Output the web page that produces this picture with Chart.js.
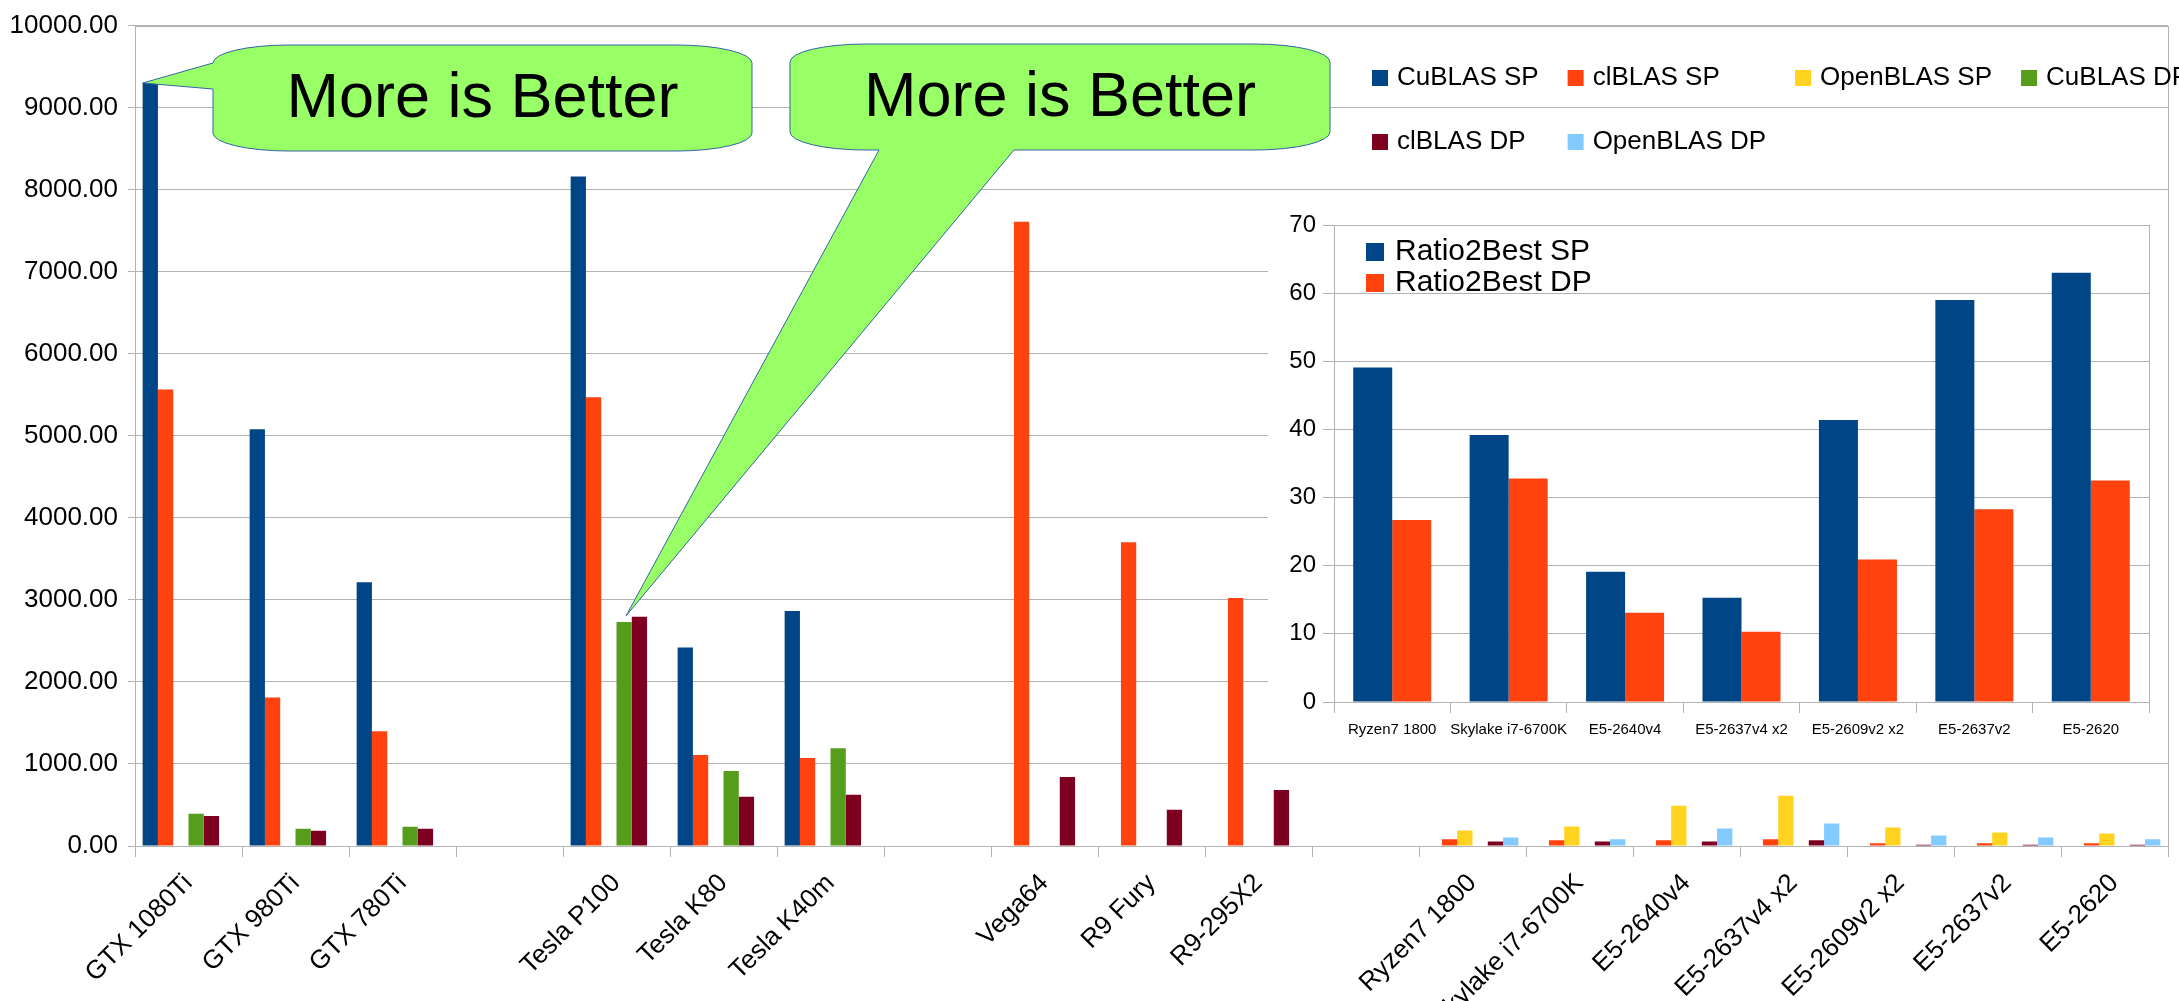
<!DOCTYPE html>
<html>
<head>
<meta charset="utf-8">
<script src="https://cdn.jsdelivr.net/npm/chart.js"></script>
<style>
  body { margin: 0; background: #fff; }
  #wrap { position: relative; width: 2179px; height: 1001px; overflow: hidden; }
  #inset { position: absolute; left: 1268px; top: 195px; }
</style>
</head>
<body>
<div id="wrap">
  <canvas id="main" width="2179" height="1001"></canvas>
  <canvas id="inset" width="900" height="557"></canvas>
</div>
<script>
// Main chart data
const categories = ['GTX 1080Ti', 'GTX 980Ti', 'GTX 780Ti', '', 'Tesla P100', 'Tesla K80', 'Tesla K40m', '',
  'Vega64', 'R9 Fury', 'R9-295X2', '', 'Ryzen7 1800', 'Skylake i7-6700K', 'E5-2640v4', 'E5-2637v4 x2',
  'E5-2609v2 x2', 'E5-2637v2', 'E5-2620'];
const cublasSP   = [9300, 5080, 3215, null, 8160, 2420, 2865, null, null, null, null, null, null, null, null, null, null, null, null];
const clblasSP   = [5565, 1810, 1400, null, 5470, 1108, 1072, null, 7610, 3703, 3022, null, 81, 69, 69, 81, 32, 32, 32];
const openblasSP = [null, null, null, null, null, null, null, null, null, null, null, null, 190, 238, 492, 613, 226, 165, 153];
const cublasDP   = [392, 209, 234, null, 2731, 915, 1192, null, null, null, null, null, null, null, null, null, null, null, null];
const clblasDP   = [366, 187, 209, null, 2794, 600, 625, null, 840, 441, 683, null, 56, 56, 56, 69, 16, 16, 16];
const openblasDP = [null, null, null, null, null, null, null, null, null, null, null, null, 105, 81, 214, 274, 129, 105, 81];
const yTicks = [0, 10000, 1000];

// Inset chart data
const cpuCategories = ['Ryzen7 1800', 'Skylake i7-6700K', 'E5-2640v4', 'E5-2637v4 x2', 'E5-2609v2 x2', 'E5-2637v2', 'E5-2620'];
const ratioSP = [49.1, 39.2, 19.1, 15.3, 41.4, 59.0, 63.0];
const ratioDP = [26.7, 32.8, 13.1, 10.3, 20.9, 28.3, 32.5];
const insetTicks = [0, 70, 10];

const FONT = '"Liberation Sans", Arial, sans-serif';
const GRID = '#b3b3b3';
Chart.defaults.font.family = FONT;
Chart.defaults.color = '#000';

// white canvas
const whiteBg = {
    id: 'whiteBg',
    beforeDraw(chart) {
        const ctx = chart.ctx;
        ctx.save();
        ctx.fillStyle = '#fff';
        ctx.fillRect(0, 0, chart.width, chart.height);
        ctx.restore();
    }
};

// right/top frame of the plot area
const plotFrame = {
    id: 'plotFrame',
    beforeDatasetsDraw(chart) {
        const a = chart.chartArea, ctx = chart.ctx;
        ctx.save();
        ctx.strokeStyle = GRID;
        ctx.lineWidth = 1;
        ctx.strokeRect(Math.round(a.left) + 0.5, Math.round(a.top) + 0.5, Math.round(a.right - a.left), Math.round(a.bottom - a.top));
        ctx.restore();
    }
};

// legend laid out in columns like the office suite does
const boxLegend = {
    id: 'boxLegend',
    afterDraw(chart, args, opts) {
        const ctx = chart.ctx;
        const items = chart.data.datasets;
        ctx.save();
        ctx.font = opts.font;
        ctx.textBaseline = 'middle';
        const widths = [];
        items.forEach((ds, i) => {
            const c = i % opts.cols;
            widths[c] = Math.max(widths[c] || 0, ctx.measureText(ds.label).width);
        });
        let x = opts.x;
        const colX = widths.map(w => {
            const cx = x;
            x += opts.box + opts.gap + w + opts.colGap;
            return cx;
        });
        items.forEach((ds, i) => {
            const cx = colX[i % opts.cols];
            const cy = opts.y + Math.floor(i / opts.cols) * opts.rowH;
            ctx.fillStyle = ds.backgroundColor;
            ctx.fillRect(cx, Math.round(cy - opts.box / 2), opts.box, opts.box);
            ctx.fillStyle = '#000';
            ctx.fillText(ds.label, cx + opts.box + opts.gap, cy);
        });
        ctx.restore();
    }
};

// "More is Better" speech bubbles
function bubblePath(ctx, b, tip) {
    const { left, top, right, bottom, rx, ry } = b;
    ctx.beginPath();
    ctx.moveTo(left + rx, top);
    ctx.lineTo(right - rx, top);
    ctx.ellipse(right - rx, top + ry, rx, ry, 0, -Math.PI / 2, 0);
    ctx.lineTo(right, bottom - ry);
    ctx.ellipse(right - rx, bottom - ry, rx, ry, 0, 0, Math.PI / 2);
    if (b.side === 'bottom') {
        ctx.lineTo(b.p2, bottom);
        ctx.lineTo(tip.x, tip.y);
        ctx.lineTo(b.p1, bottom);
    }
    ctx.lineTo(left + rx, bottom);
    ctx.ellipse(left + rx, bottom - ry, rx, ry, 0, Math.PI / 2, Math.PI);
    if (b.side === 'left') {
        ctx.lineTo(left, b.p2);
        ctx.lineTo(tip.x, tip.y);
        ctx.lineTo(left, b.p1);
    }
    ctx.lineTo(left, top + ry);
    ctx.ellipse(left + rx, top + ry, rx, ry, 0, Math.PI, Math.PI * 1.5);
    ctx.closePath();
}

const callouts = {
    id: 'callouts',
    afterDraw(chart) {
        const ctx = chart.ctx;
        const gtx = chart.getDatasetMeta(0).data[0];
        const p100g = chart.getDatasetMeta(3).data[4];
        const p100r = chart.getDatasetMeta(4).data[4];
        const bubbles = [
            { left: 213, top: 45, right: 752, bottom: 151, rx: 76, ry: 18, side: 'left', p1: 63, p2: 89,
              tip: { x: gtx.x - gtx.width / 2, y: gtx.y } },
            { left: 790, top: 44, right: 1330, bottom: 150, rx: 76, ry: 18, side: 'bottom', p1: 879, p2: 1014,
              tip: { x: p100g.x + 2, y: p100r.y - 1 } }
        ];
        ctx.save();
        bubbles.forEach(b => {
            bubblePath(ctx, b, b.tip);
            ctx.fillStyle = '#99ff66';
            ctx.fill();
            ctx.strokeStyle = '#3465a4';
            ctx.lineWidth = 1;
            ctx.stroke();
            ctx.fillStyle = '#000';
            ctx.font = '63px ' + FONT;
            ctx.textAlign = 'center';
            ctx.textBaseline = 'middle';
            ctx.fillText('More is Better', (b.left + b.right) / 2, (b.top + b.bottom) / 2 + 2);
        });
        ctx.restore();
    }
};

new Chart(document.getElementById('main'), {
    type: 'bar',
    data: {
        labels: categories,
        datasets: [
            { label: 'CuBLAS SP', data: cublasSP, backgroundColor: '#004586' },
            { label: 'clBLAS SP', data: clblasSP, backgroundColor: '#ff420e' },
            { label: 'OpenBLAS SP', data: openblasSP, backgroundColor: '#ffd320' },
            { label: 'CuBLAS DP', data: cublasDP, backgroundColor: '#579d1c' },
            { label: 'clBLAS DP', data: clblasDP, backgroundColor: '#7e0021' },
            { label: 'OpenBLAS DP', data: openblasDP, backgroundColor: '#83caff' }
        ]
    },
    options: {
        responsive: false,
        animation: false,
        layout: { padding: { top: 21, right: 11, left: 0, bottom: 0 } },
        datasets: { bar: { categoryPercentage: 6 / 7, barPercentage: 1.0 } },
        plugins: {
            legend: { display: false },
            tooltip: { enabled: false },
            boxLegend: { x: 1372, y: 78, rowH: 64, box: 16, gap: 9, colGap: 29, cols: 4, font: '26px ' + FONT }
        },
        scales: {
            x: {
                grid: { offset: true, drawOnChartArea: false, color: GRID, tickLength: 11 },
                border: { color: GRID },
                ticks: { autoSkip: false, minRotation: 45, maxRotation: 45, padding: 11, font: { size: 26 }, color: '#000' },
                afterFit: (scale) => { scale.height = 155; }
            },
            y: {
                min: yTicks[0],
                max: yTicks[1],
                grid: { color: GRID, tickLength: 7 },
                border: { color: GRID },
                ticks: { stepSize: yTicks[2], padding: 10, font: { size: 26 }, color: '#000',
                    callback: (v) => v.toFixed(2) },
                afterFit: (scale) => { scale.width = 135; }
            }
        }
    },
    plugins: [whiteBg, plotFrame, boxLegend, callouts]
});

new Chart(document.getElementById('inset'), {
    type: 'bar',
    data: {
        labels: cpuCategories,
        datasets: [
            { label: 'Ratio2Best SP', data: ratioSP, backgroundColor: '#004586' },
            { label: 'Ratio2Best DP', data: ratioDP, backgroundColor: '#ff420e' }
        ]
    },
    options: {
        responsive: false,
        animation: false,
        layout: { padding: { top: 30, right: 19, left: 0, bottom: 0 } },
        datasets: { bar: { categoryPercentage: 0.67, barPercentage: 1.0 } },
        plugins: {
            legend: { display: false },
            tooltip: { enabled: false },
            boxLegend: { x: 98, y: 57, rowH: 31, box: 18, gap: 11, colGap: 20, cols: 1, font: '30px ' + FONT }
        },
        scales: {
            x: {
                grid: { offset: true, drawOnChartArea: false, color: GRID, tickLength: 11 },
                border: { color: GRID },
                ticks: { autoSkip: false, maxRotation: 0, minRotation: 0, padding: 8, font: { size: 15 }, color: '#000' },
                afterFit: (scale) => { scale.height = 50; }
            },
            y: {
                min: insetTicks[0],
                max: insetTicks[1],
                grid: { color: GRID, tickLength: 11 },
                border: { color: GRID },
                ticks: { stepSize: insetTicks[2], padding: 7, font: { size: 24 }, color: '#000' },
                afterFit: (scale) => { scale.width = 66; }
            }
        }
    },
    plugins: [whiteBg, plotFrame, boxLegend]
});
</script>
</body>
</html>
